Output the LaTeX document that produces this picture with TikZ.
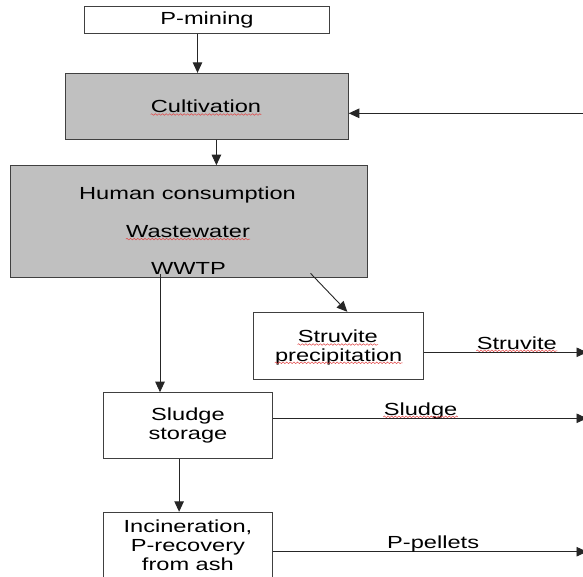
\documentclass[tikz,border=0pt]{standalone}
\usepackage{fontspec}
\setmainfont{Liberation Sans}[FakeStretch=1.35]
\usetikzlibrary{arrows.meta,decorations.pathmorphing}
\definecolor{boxgray}{RGB}{192,192,192}
\definecolor{spellred}{RGB}{225,70,70}

\begin{document}
\begin{tikzpicture}[x=1pt,y=-1pt,
		every node/.style={font=\fontsize{17.5}{19}\selectfont},
		procbox/.style={draw=black!75,line width=1pt,inner sep=0pt,align=center},
		linetxt/.style={anchor=base,inner sep=0pt},
		flowtxt/.style={anchor=base,yshift=3.3pt,inner sep=0pt},
		spell/.style={draw=spellred,line width=0.5pt,decorate,
			decoration={snake,segment length=3.6pt,amplitude=0.8pt}},
		>={Triangle[length=10.5pt,width=9.5pt]}]
		\useasboundingbox (0,0) rectangle (583,576);
		\node[procbox,minimum width=245,minimum height=27] (PM) at (207,19.7) {P-mining};
		\node[procbox,fill=boxgray,minimum width=282.5,minimum height=65.7] (CU) at (207,106.2) {};
		\node[linetxt] (CUT) at (206,112.7) {Cultivation};
		\node[procbox,fill=boxgray,minimum width=357.3,minimum height=111.6] (HW) at (188.7,221.5) {};
		\node[linetxt] (HWa) at (187.5,199.3) {Human consumption};
		\node[linetxt] (HWb) at (188,237.3) {Wastewater};
		\node[linetxt] (HWc) at (188.5,274) {WWTP};
		\node[procbox,minimum width=170,minimum height=67] (SP) at (338.3,345.8) {};
		\node[linetxt] (SPa) at (337.8,342.7) {Struvite};
		\node[linetxt] (SPb) at (338.7,361) {precipitation};
		\node[procbox,minimum width=169.2,minimum height=65.6] (SS) at (187.9,425.5) {Sludge\\storage};
		\node[procbox,minimum width=169.2,minimum height=66] (IN) at (187.9,545.3) {Incineration,\\P-recovery\\from ash};
		
		\coordinate (FB) at (590,113.3);
		\coordinate (OS) at (587,352.3);
		\coordinate (OL) at (587,418.3);
		\coordinate (OP) at (587,551.7);
		\path[->,line width=0.9pt,every edge/.append style={draw=black!85}]
		([xshift=-9.5pt]PM.south) edge ([xshift=-9.5pt]CU.north)
		([xshift=9.4pt]CU.south) edge ([xshift=9.4pt]CU.south |- HW.north)
		(FB) edge (CU.east |- FB)
		([xshift=-28.7pt,yshift=4pt]HW.south) edge ([xshift=-28.7pt]HW.south |- SS.north)
		([xshift=121.8pt,yshift=4.5pt]HW.south) edge ([xshift=9pt]SP.north)
		(SP.east |- OS) edge node[flowtxt,pos=.57] (STL) {Struvite} (OS)
		(SS.east |- OL) edge node[flowtxt,pos=.47] (SLL) {Sludge} (OL)
		([xshift=-8.8pt]SS.south) edge ([xshift=-8.8pt]SS.south |- IN.north)
		(IN.east |- OP) edge node[flowtxt,pos=.51] (PPL) {P-pellets} (OP);
		
		\foreach \w in {CUT,HWb,SPa,SPb,STL,SLL}
			\draw[spell] ([yshift=-1.8pt]\w.base west) -- ([yshift=-1.8pt]\w.base east);
\end{tikzpicture}
\end{document}
